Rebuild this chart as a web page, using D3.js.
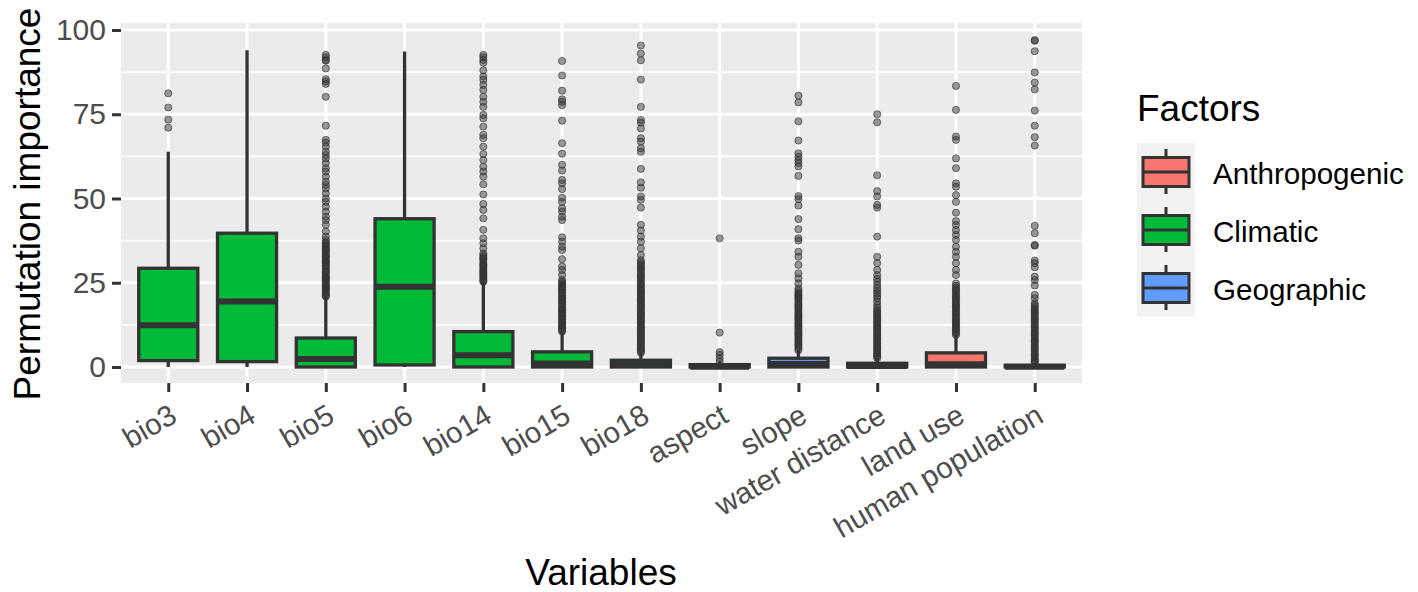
<!DOCTYPE html>
<html>
<head>
<meta charset="utf-8">
<script src="https://cdn.jsdelivr.net/npm/d3@7"></script>
<style>
html, body { margin: 0; padding: 0; background: #fff; }
svg { display: block; }
text { font-family: "Liberation Sans", Arial, sans-serif; }
</style>
</head>
<body>
<div id="chart"></div>
<script>
const categories = ['bio3', 'bio4', 'bio5', 'bio6', 'bio14', 'bio15', 'bio18', 'aspect', 'slope', 'water distance', 'land use', 'human population'];
const factorOf = ['Climatic', 'Climatic', 'Climatic', 'Climatic', 'Climatic', 'Climatic', 'Climatic', 'Geographic', 'Geographic', 'Geographic', 'Anthropogenic', 'Anthropogenic'];
const q1 = [1.9, 1.6, 0, 0.6, 0, 0, 0, 0, 0, 0, 0, 0];
const median = [12.4, 19.4, 2.4, 23.8, 3.5, 1, 0.7, 0.1, 0.9, 0.3, 0.8, 0.05];
const q3 = [29.3, 39.7, 8.6, 44, 10.5, 4.5, 2, 0.7, 2.6, 1.1, 4.2, 0.5];
const whiskerLow = [0, 0, 0, 0, 0, 0, 0, 0, 0, 0, 0, 0];
const whiskerHigh = [63.9, 94, 20.9, 93.6, 25.3, 10.5, 4.2, 1.6, 5, 2.6, 9.5, 1.2];

const outBio3 = [81.2, 77, 73.4, 71];
const outBio4 = [];
const outBio5 = [92.6, 91.9, 91.1, 90.9, 88.6, 85.4, 84.7, 84, 80.2, 71.6, 67.4, 66.6, 65.4, 63.9, 62.9, 61.9, 60.5, 59, 58, 56.5, 55, 54, 53, 51.5, 50, 49, 47.6, 46.1, 44.6, 43.6, 42.2, 40.2, 38.7, 37.7, 37, 36.6, 36.1, 35.6, 35.2, 34.8, 34.4, 33.9, 33.3, 32.9, 32.6, 32, 31.5, 31.1, 30.7, 30.2, 29.8, 29.2, 28.6, 28.2, 27.9, 27.3, 26.8, 26.4, 26.1, 25.6, 25.2, 24.6, 24.1, 23.7, 23.4, 22.9, 22.5, 22, 21.6, 21.2, 20.9];
const outBio6 = [];
const outBio14 = [92.6, 91.9, 91.1, 90.3, 88, 86.2, 85.2, 83.7, 82.2, 80.2, 78.7, 77.2, 74.8, 73.8, 71.3, 68.9, 67.9, 65.4, 63.2, 61.4, 59.4, 58, 56.5, 54.2, 51.2, 48.4, 46.6, 44.1, 40.7, 38.2, 36.7, 35.2, 33.7, 33.1, 32.6, 32.2, 31.8, 31.1, 30.5, 30.1, 29.7, 29.1, 28.6, 28.2, 27.8, 27.4, 26.9, 26.5, 26, 25.6, 25.3];
const outBio15 = [90.8, 86.5, 82, 79.4, 78.7, 77.7, 73.1, 66.4, 63.3, 60, 58.3, 55.5, 54.5, 52.8, 50.2, 49, 47.1, 46.1, 44.6, 43.6, 38.5, 37.2, 35.7, 34.7, 32, 29.8, 28.8, 27.3, 25.8, 25.3, 24.9, 24.4, 24, 23.5, 23.1, 22.7, 22.2, 21.7, 21.2, 20.7, 20.3, 19.9, 19.5, 19, 18.6, 18, 17.5, 17.1, 16.7, 16.2, 15.8, 15.3, 14.9, 14.4, 14, 13.5, 13.1, 12.6, 12.2, 11.8, 11.4, 10.9, 10.5];
const outBio18 = [95.4, 93, 91, 85.3, 77.2, 73.3, 72.5, 70.8, 67.9, 66.9, 64.9, 63.9, 58.8, 54.8, 53.2, 50.6, 49.6, 47.3, 42.2, 40.5, 38.7, 37.2, 35.2, 33.2, 31.7, 31.1, 30.6, 30, 29.4, 29, 28.5, 27.8, 27.2, 26.7, 26.3, 25.6, 25, 24.5, 24.1, 23.5, 23, 22.5, 22, 21.6, 21.1, 20.5, 20, 19.6, 19.1, 18.6, 18.2, 17.6, 17.1, 16.5, 16, 15.6, 15.2, 14.6, 14.1, 13.6, 13.2, 12.6, 12, 11.6, 11.2, 10.6, 10.1, 9.6, 9.2, 8.6, 8.1, 7.6, 7.2, 6.6, 6.1, 5.6, 5.2, 4.7, 4.2];
const outAspect = [38.2, 10.2, 4.4, 3.6, 2.6, 1.6];
const outSlope = [80.5, 78.5, 72.9, 67.2, 63.4, 62.4, 61.4, 60.5, 59.5, 56.7, 50.7, 49.8, 47.9, 43.9, 40.9, 38.2, 37.5, 34.2, 32.7, 30.3, 27.8, 26.3, 24.8, 23.3, 22.6, 22, 21.5, 21.1, 20.6, 20.2, 19.6, 19, 18.5, 18.1, 17.6, 17.2, 16.6, 16, 15.5, 15.1, 14.6, 14.2, 13.6, 13, 12.5, 12.1, 11.6, 11.1, 10.5, 10, 9.6, 9.2, 8.6, 8.1, 7.6, 7.1, 6.6, 6.2, 5.6, 5];
const outWater = [75, 72.6, 56.9, 52.2, 50.6, 48.1, 47.3, 38.7, 32.7, 30.8, 28.8, 27.3, 26.2, 25.3, 24.3, 23.4, 22.6, 21.9, 21.1, 20.4, 19.4, 18.4, 17.6, 16.9, 16.4, 15.9, 15.4, 14.9, 14.4, 14, 13.4, 12.9, 12.4, 12, 11.5, 11.1, 10.5, 10, 9.5, 9, 8.5, 8.1, 7.5, 7, 6.5, 6, 5.5, 5.1, 4.5, 4, 3.5, 3.1, 2.6];
const outLand = [83.4, 76.3, 68.4, 67.4, 61.9, 59, 54.5, 53.5, 51, 49, 45.8, 43.3, 42.1, 40.6, 39.2, 37.7, 35.7, 34.2, 32.7, 30.8, 28.8, 27.3, 24.8, 24.1, 23.5, 23, 22.6, 22, 21.4, 20.9, 20.5, 19.9, 19.4, 18.8, 18.3, 17.9, 17.5, 16.9, 16.4, 15.9, 15.5, 14.9, 14.3, 13.8, 13.4, 12.9, 12.5, 11.9, 11.4, 10.9, 10.5, 10, 9.5];
const outHuman = [97, 96.8, 93.7, 87.4, 84.4, 82.4, 76.1, 71.6, 68.2, 65.7, 41.9, 39.7, 36.2, 36, 31.6, 30.8, 29.6, 26.8, 25.8, 24.2, 21.4, 20.4, 18.9, 18.3, 17.8, 17.2, 16.7, 16.2, 15.7, 15.1, 14.5, 14, 13.6, 13, 12.4, 12, 11.5, 10.9, 10.3, 9.8, 9.4, 8.8, 8.2, 7.7, 7.3, 6.7, 6.1, 5.6, 5.2, 4.6, 4, 3.5, 3.1, 2.5, 2, 1.6, 1.2];
const outliers = [outBio3, outBio4, outBio5, outBio6, outBio14, outBio15, outBio18, outAspect, outSlope, outWater, outLand, outHuman];

const factors = ['Anthropogenic', 'Climatic', 'Geographic'];
const factorColors = ['#f8766d', '#00ba38', '#619cff'];
const yTicks = [0, 25, 50, 75, 100];
const yMinor = [12.5, 37.5, 62.5, 87.5];

const width = 1418, height = 592;
const panelLeft = 121, panelRight = 1082, panelTop = 23, panelBottom = 383;
const dark = '#333333';

const svg = d3.select('#chart').append('svg')
    .attr('width', width)
    .attr('height', height);

const x = d3.scalePoint().domain(categories).range([panelLeft, panelRight]).padding(0.6);
const y = d3.scaleLinear().domain([-4.75, 102.08]).range([panelBottom, panelTop]);
const fill = d3.scaleOrdinal().domain(factors).range(factorColors);
const boxWidth = x.step() * 0.75;

// panel and grid
svg.append('rect')
    .attr('x', panelLeft).attr('y', panelTop)
    .attr('width', panelRight - panelLeft).attr('height', panelBottom - panelTop)
    .attr('fill', '#ebebeb');

svg.append('g').selectAll('line').data(yMinor).join('line')
    .attr('x1', panelLeft).attr('x2', panelRight)
    .attr('y1', d => y(d)).attr('y2', d => y(d))
    .attr('stroke', '#fff').attr('stroke-width', 1.6);
svg.append('g').selectAll('line').data(yTicks).join('line')
    .attr('x1', panelLeft).attr('x2', panelRight)
    .attr('y1', d => y(d)).attr('y2', d => y(d))
    .attr('stroke', '#fff').attr('stroke-width', 3);
svg.append('g').selectAll('line').data(categories).join('line')
    .attr('x1', d => x(d)).attr('x2', d => x(d))
    .attr('y1', panelTop).attr('y2', panelBottom)
    .attr('stroke', '#fff').attr('stroke-width', 3);

// boxes
let rows = categories.map((name, i) => ({
    name,
    factor: factorOf[i],
    q1: q1[i], median: median[i], q3: q3[i],
    low: whiskerLow[i], high: whiskerHigh[i],
    out: outliers[i]
}));

let groups = svg.append('g').selectAll('g').data(rows).join('g');

groups.selectAll('circle').data(d => d.out.map(v => ({name: d.name, v}))).join('circle')
    .attr('cx', d => x(d.name))
    .attr('cy', d => y(d.v))
    .attr('r', 3.6)
    .attr('fill', dark).attr('fill-opacity', 0.5)
    .attr('stroke', dark).attr('stroke-opacity', 0.6).attr('stroke-width', 1);

groups.append('line')
    .attr('x1', d => x(d.name)).attr('x2', d => x(d.name))
    .attr('y1', d => y(d.high)).attr('y2', d => y(d.q3))
    .attr('stroke', dark).attr('stroke-width', 3.3);
groups.append('line')
    .attr('x1', d => x(d.name)).attr('x2', d => x(d.name))
    .attr('y1', d => y(d.q1)).attr('y2', d => y(d.low))
    .attr('stroke', dark).attr('stroke-width', 3.3);

groups.append('rect')
    .attr('x', d => x(d.name) - boxWidth / 2)
    .attr('y', d => y(d.q3))
    .attr('width', boxWidth)
    .attr('height', d => y(d.q1) - y(d.q3))
    .attr('fill', d => fill(d.factor))
    .attr('stroke', dark).attr('stroke-width', 3.3);
groups.append('line')
    .attr('x1', d => x(d.name) - boxWidth / 2).attr('x2', d => x(d.name) + boxWidth / 2)
    .attr('y1', d => y(d.median)).attr('y2', d => y(d.median))
    .attr('stroke', dark).attr('stroke-width', 6);

// axes
let yAxis = svg.append('g')
    .attr('transform', `translate(${panelLeft},0)`)
    .call(d3.axisLeft(y).tickValues(yTicks).tickSize(9).tickPadding(6));
yAxis.select('.domain').remove();
yAxis.selectAll('line').attr('stroke', dark).attr('stroke-width', 3);
yAxis.selectAll('text')
    .attr('fill', '#4d4d4d')
    .style('font-size', '30px')
    .style('font-family', '"Liberation Sans", Arial, sans-serif');

let xAxis = svg.append('g')
    .attr('transform', `translate(0,${panelBottom})`)
    .call(d3.axisBottom(x).tickSize(9));
xAxis.select('.domain').remove();
xAxis.selectAll('line').attr('stroke', dark).attr('stroke-width', 3);
xAxis.selectAll('text')
    .attr('fill', '#4d4d4d')
    .attr('text-anchor', 'end')
    .attr('dy', 0)
    .attr('y', 0)
    .attr('transform', 'translate(10,38) rotate(-30)')
    .style('font-size', '29.6px')
    .style('font-family', '"Liberation Sans", Arial, sans-serif');

svg.append('text')
    .attr('x', 601).attr('y', 585)
    .attr('text-anchor', 'middle')
    .attr('font-size', 37)
    .text('Variables');

svg.append('text')
    .attr('transform', 'translate(40,204) rotate(-90)')
    .attr('text-anchor', 'middle')
    .attr('font-size', 37)
    .text('Permutation importance');

// legend
svg.append('text')
    .attr('x', 1137).attr('y', 121)
    .attr('font-size', 37)
    .text('Factors');

let keyX = d3.scaleLinear().domain([0, 1]).range([1143, 1189]);
let keyY = d3.scaleBand().domain(factors).range([143, 317]);

let keys = svg.append('g').selectAll('g').data(factors).join('g')
    .attr('transform', d => `translate(0,${keyY(d)})`);
keys.append('rect')
    .attr('x', 1137).attr('y', 0)
    .attr('width', 58).attr('height', keyY.bandwidth())
    .attr('fill', '#f2f2f2');
keys.append('line')
    .attr('x1', keyX(0.5)).attr('x2', keyX(0.5))
    .attr('y1', 6).attr('y2', 51)
    .attr('stroke', dark).attr('stroke-width', 3);
keys.append('rect')
    .attr('x', keyX(0)).attr('y', 14.5)
    .attr('width', keyX(1) - keyX(0)).attr('height', 29)
    .attr('fill', d => fill(d))
    .attr('stroke', dark).attr('stroke-width', 3);
keys.append('line')
    .attr('x1', keyX(0)).attr('x2', keyX(1))
    .attr('y1', 29).attr('y2', 29)
    .attr('stroke', dark).attr('stroke-width', 3);
keys.append('text')
    .attr('x', 1213).attr('y', 30)
    .attr('dy', '0.36em')
    .attr('font-size', 29.6)
    .text(d => d);
</script>
</body>
</html>
